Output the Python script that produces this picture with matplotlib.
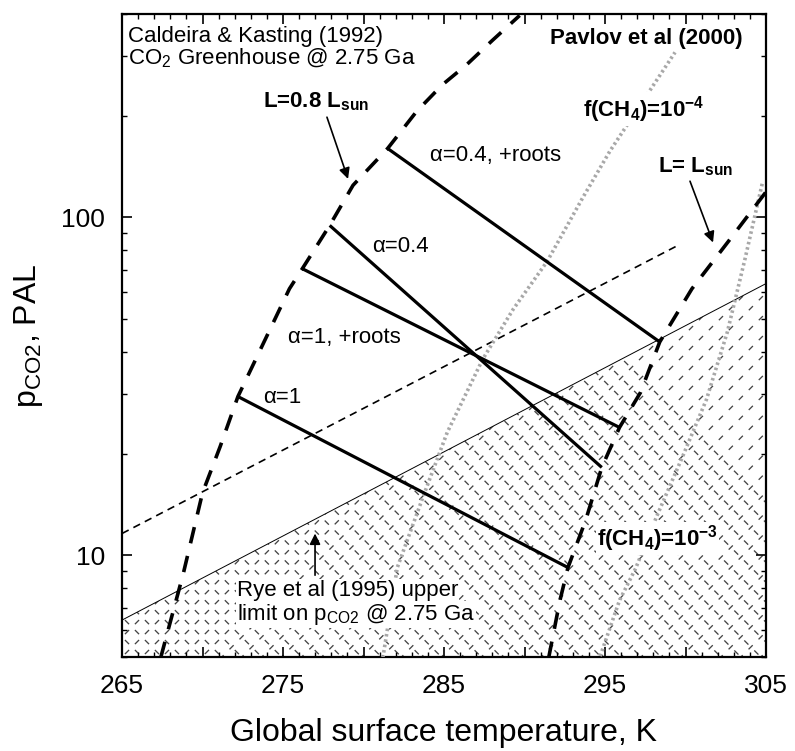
import numpy as np
import matplotlib
matplotlib.use("Agg")
import matplotlib.pyplot as plt
from matplotlib.patches import Polygon

plt.rcParams["font.family"] = ["Liberation Sans", "DejaVu Sans"]
plt.rcParams["mathtext.default"] = "regular"

# ── данные ─────────────────────────────────────────────────────────────
# светимость L = 0.8 L_sun (жирный пунктир)
temp_l08 = [267.4, 268.8, 270.0, 271.1, 272.2, 275.4, 276.2, 277.9, 279.35,
            281.5, 283.3, 284.9, 286.4, 288.0, 289.7]
pco2_l08 = [4.97, 8.8, 15.3, 21.0, 29.5, 61.5, 70.5, 94.7, 124.5,
            160, 206, 247, 283, 334, 396]
# светимость L = L_sun
temp_l10 = [291.5, 292.2, 292.7, 293.8, 294.8, 295.9, 297.2, 298.4, 300.4, 302.8, 305.0]
pco2_l10 = [4.97, 7.35, 9.2, 12.7, 18.2, 23.9, 30.3, 42.8, 61.5, 86.6, 119]

# сплошные линии для разных alpha
alpha_labels = ["α=1", "α=1, +roots", "α=0.4", "α=0.4, +roots"]
alpha_temp = [[272.2, 292.7], [276.2, 295.9], [277.9, 294.8], [281.5, 298.4]]
alpha_pco2 = [[29.5, 9.2], [70.5, 23.9], [94.7, 18.2], [160, 42.8]]

# Pavlov et al (2000), f(CH4)
temp_ch4_4 = [281.2, 282.1, 283.7, 285.2, 287.4, 289.3, 291.4, 293.6, 295.3, 299.35]
pco2_ch4_4 = [4.97, 9.2, 14.9, 23.1, 38.0, 53.5, 74.0, 114, 157, 308]
temp_ch4_3 = [294.7, 295.9, 296.9, 298.2, 299.8, 301.3, 302.6, 303.7, 304.8]
pco2_ch4_3 = [5.03, 7.35, 9.14, 13.0, 19.5, 28.9, 45.8, 75.5, 128]

# тонкий пунктир
temp_thin = [265.0, 299.5]
pco2_thin = [11.6, 82.5]

# Rye et al (1995) верхний предел
temp_rye = [265.0, 305.0]
pco2_rye = [6.43, 63.7]

XLIM = (265, 305)
YLIM = (5, 400)

# ── рисунок ───────────────────────────────────────────────────────────
fig = plt.figure(figsize=(7.95, 7.51), dpi=100)
ax = fig.add_axes([122/795, 1 - 657/751, 644/795, 643/751])
ax.set_yscale("log")
ax.set_xlim(*XLIM)
ax.set_ylim(*YLIM)

# штриховка области под пределом Rye
poly = Polygon([(temp_rye[0], pco2_rye[0]), (temp_rye[1], pco2_rye[1]),
                (temp_rye[1], YLIM[0]), (temp_rye[0], YLIM[0])],
               closed=True, facecolor="none", edgecolor="none", transform=ax.transData)
ax.add_patch(poly)
s = 0.031                                   # шаг штриховки (доли осей)
L_pt = 0.7071 * s * 644 * 0.72              # расстояние между пересечениями, pt
d_pt = 4.2                                   # длина штриха, pt
lw_h = 0.95
off = (L_pt / 2 + d_pt / 2) / lw_h
pat = (off, (d_pt / lw_h, (L_pt - d_pt) / lw_h))
for c in np.arange(-40, 41) * s:
    for sl in (1, -1):
        ln, = ax.plot([0, 1], [c, c + sl], transform=ax.transAxes, color="#454545",
                      lw=lw_h, ls=pat, zorder=1)
        ln.set_clip_path(poly)

ax.plot(temp_rye, pco2_rye, color="black", lw=0.7, zorder=2)
ax.plot(temp_thin, pco2_thin, color="black", lw=1.2, ls=(0, (4.5, 3.2)), zorder=2)

ax.plot(temp_ch4_4, pco2_ch4_4, color="#a8a8a8", lw=2.6, ls=(0, (0.7, 0.8)), zorder=3)
ax.plot(temp_ch4_3, pco2_ch4_3, color="#a8a8a8", lw=2.6, ls=(0, (0.7, 0.8)), zorder=3)

ax.plot(temp_l08, pco2_l08, color="black", lw=2.6, ls=(0, (4.6, 3.6)), zorder=4)
ax.plot(temp_l10, pco2_l10, color="black", lw=2.6, ls=(0, (4.6, 3.6)), zorder=4)

for t, p in zip(alpha_temp, alpha_pco2):
    ax.plot(t, p, color="black", lw=2.3, solid_capstyle="butt", zorder=5)

# ── подписи ───────────────────────────────────────────────────────────
fs = 16
ax.text(265.37, 330, "Caldeira & Kasting (1992)", fontsize=fs, va="baseline")
ax.text(265.37, 284, "CO$_2$ Greenhouse @ 2.75 Ga", fontsize=fs, va="baseline")
ax.text(303.57, 326, "Pavlov et al (2000)", fontsize=fs, fontweight="bold",
        ha="right", va="baseline")

ax.text(273.76, 212, "L=0.8 L$_{sun}$", fontsize=fs, fontweight="bold", va="baseline")
ax.annotate("", xy=(279.04, 130), xytext=(277.73, 198),
            arrowprops=dict(arrowstyle="-|>", color="black", lw=1.2,
                            mutation_scale=16, shrinkA=0, shrinkB=0))

ax.text(284.13, 152, alpha_labels[3], fontsize=fs, va="center")
ax.text(280.53, 82, alpha_labels[2], fontsize=fs, va="center")
ax.text(275.31, 44, alpha_labels[1], fontsize=fs, va="center")
ax.text(273.76, 29.4, alpha_labels[0], fontsize=fs, va="center")

ax.text(293.63, 209, "f(CH$_4$)=10$^{-4}$", fontsize=fs, fontweight="bold", va="center",
        bbox=dict(facecolor="white", edgecolor="none", pad=1))
ax.text(298.29, 136, "L= L$_{sun}$", fontsize=fs, fontweight="bold", va="baseline")
ax.annotate("", xy=(301.71, 84.3), xytext=(300.28, 128),
            arrowprops=dict(arrowstyle="-|>", color="black", lw=1.2,
                            mutation_scale=16, shrinkA=0, shrinkB=0))

ax.text(294.5, 11.2, "f(CH$_4$)=10$^{-3}$", fontsize=fs, fontweight="bold", va="center",
        bbox=dict(facecolor="white", edgecolor="none", pad=1), zorder=6)

ax.text(272.14, 7.87, "Rye et al (1995) upper", fontsize=fs, va="center",
        bbox=dict(facecolor="white", edgecolor="none", pad=0.5), zorder=6)
ax.text(272.14, 6.68, "limit on p$_{CO2}$ @ 2.75 Ga", fontsize=fs, va="center",
        bbox=dict(facecolor="white", edgecolor="none", pad=0.5), zorder=6)
ax.annotate("", xy=(276.99, 11.6), xytext=(276.99, 8.73),
            arrowprops=dict(arrowstyle="-|>", color="black", lw=1.2,
                            mutation_scale=16, shrinkA=0, shrinkB=0), zorder=6)

# ── оси ───────────────────────────────────────────────────────────────
xt = np.arange(265, 306, 5)
ax.set_xticks(xt)
ax.set_xticklabels([str(v) if (v - 265) % 10 == 0 else "" for v in xt])
ax.set_xticks(np.arange(265, 306, 1), minor=True)
ax.set_yticks([10, 100])
ax.set_yticklabels(["10", "100"])
ax.tick_params(which="both", direction="in", top=True, right=True, labelsize=19)
ax.tick_params(which="major", length=7, width=1.2, pad=12)
ax.tick_params(which="minor", length=3.5, width=1.0)
for sp in ax.spines.values():
    sp.set_linewidth(1.6)

ax.set_xlabel("Global surface temperature, K", fontsize=23, labelpad=15)
ax.set_ylabel("p$_{CO2}$, PAL", fontsize=23, labelpad=12)

fig.savefig("out.png", dpi=100)
